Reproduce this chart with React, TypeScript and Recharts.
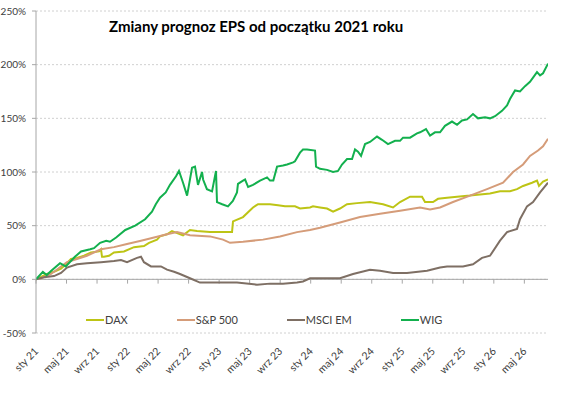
import React from "react";
import { LineChart, Line, XAxis, YAxis, CartesianGrid, ReferenceLine } from "recharts";

// x = months since January 2021
const tickMonths = [0, 4, 8, 12, 16, 20, 24, 28, 32, 36, 40, 44, 48, 52, 56, 60, 64];
const tickLabels = ["sty 21", "maj 21", "wrz 21", "sty 22", "maj 22", "wrz 22", "sty 23", "maj 23", "wrz 23", "sty 24", "maj 24", "wrz 24", "sty 25", "maj 25", "wrz 25", "sty 26", "maj 26"];
const yTicks = [-50, 0, 50, 100, 150, 200, 250];

const wigT = [0, 0.9, 1.4, 2.0, 3.15, 3.9, 5.1, 5.9, 7.1, 7.6, 8.4, 9.2, 9.7, 10.5, 11.7, 13.0, 14.3, 15.2, 15.7, 16.25, 17.0, 17.56, 18.35, 18.74, 19.27, 19.8, 20.45, 20.84, 21.23, 21.76, 21.9, 22.4, 23.07, 23.59, 23.72, 24.4, 25.16, 25.8, 26.34, 26.47, 27.13, 27.4, 27.8, 28.44, 29.36, 30.28, 30.67, 31.1, 31.59, 32.37, 32.9, 33.7, 33.94, 34.6, 34.99, 35.52, 36.57, 36.7, 37.22, 38.14, 38.93, 39.58, 40.1, 40.76, 41.42, 41.81, 42.2, 42.6, 43.12, 43.77, 44.69, 45.35, 46.13, 47.05, 47.71, 48.1, 49.02, 49.93, 50.33, 51.11, 51.64, 52.29, 52.95, 53.6, 54.52, 55.18, 55.83, 56.49, 57.27, 57.93, 58.85, 59.5, 60.16, 61.07, 61.73, 62.12, 62.78, 63.43, 64.09, 64.74, 65.66, 66.06, 66.45, 67.1];
const wigV = [0, 7, 4, 8, 15, 12, 21, 26, 28, 29, 34, 36, 35, 39, 46, 50, 56, 63, 70, 76, 81, 88, 96, 101, 90, 78, 104, 105, 88, 100, 93, 84, 82, 101, 72, 70, 68, 73, 81, 89, 92, 93, 86, 88, 92, 95, 92, 92, 105, 106, 107, 109, 110, 118, 121, 121, 120, 105, 103, 102, 100, 101, 107, 112, 112, 121, 119, 115, 126, 128, 133, 130, 126, 129, 129, 132, 132, 136, 137, 140, 134, 137, 137, 143, 147, 144, 148, 149, 154, 150, 151, 150, 152, 157, 162, 168, 176, 175, 180, 184, 193, 190, 192, 201];

const daxT = [0, 1.44, 2.36, 3.28, 3.93, 4.59, 5.37, 6.29, 7.21, 8.26, 8.52, 8.65, 8.91, 9.57, 10.22, 11.53, 12.84, 14.15, 14.81, 15.86, 16.25, 17.17, 17.82, 19.27, 20.18, 21.1, 22.8, 24.51, 25.69, 25.82, 27.13, 28.44, 29.1, 30.67, 31.72, 32.63, 33.94, 34.6, 35.91, 36.3, 37.22, 38.14, 38.93, 39.84, 40.76, 42.07, 43.77, 45.48, 46.79, 47.71, 49.02, 50.59, 50.98, 52.03, 52.69, 53.87, 55.18, 56.88, 58.19, 59.5, 60.81, 62.12, 63.04, 63.83, 65.01, 65.66, 65.92, 66.45, 67.1];
const daxV = [0, 5, 7, 10, 14, 19, 20, 22, 25, 26, 28, 21, 21, 22, 25, 26, 30, 31, 34, 37, 40, 42, 45, 41, 46, 45, 44, 44, 44, 54, 58, 67, 70, 70, 69, 68, 68, 66, 67, 68, 67, 66, 63, 66, 70, 71, 72, 70, 67, 72, 77, 77, 72, 72, 75, 76, 77, 78, 79, 80, 82, 82, 84, 87, 90, 92, 87, 91, 93];

const spT = [0, 0.66, 1.97, 3.28, 4.06, 5.37, 6.68, 8.52, 10.22, 11.93, 13.76, 15.47, 17.17, 18.48, 20.18, 22.8, 24.51, 25.43, 27.13, 29.75, 31.98, 34.21, 35.91, 37.22, 39.84, 42.46, 45.09, 47.71, 50.33, 51.64, 52.95, 54.65, 56.88, 59.11, 61.21, 62.52, 63.83, 64.74, 65.79, 66.45, 67.1];
const spV = [0, 1, 5, 12, 16, 19, 22, 28, 30, 33, 36, 39, 42, 44, 41, 40, 37, 34, 35, 37, 40, 44, 46, 48, 53, 58, 61, 64, 67, 65, 67, 72, 78, 84, 90, 100, 107, 115, 120, 124, 131];

const emT = [0, 1.05, 2.36, 3.28, 4.06, 5.37, 6.68, 8.52, 10.22, 11.14, 11.93, 13.24, 13.76, 14.15, 15.07, 16.38, 17.17, 18.09, 18.87, 20.18, 21.49, 24.12, 26.34, 28.96, 30.67, 32.37, 34.21, 34.99, 35.91, 38.14, 39.84, 41.55, 43.77, 45.09, 46.79, 48.62, 51.25, 52.95, 53.87, 55.96, 57.27, 58.45, 59.5, 60.81, 61.73, 63.04, 63.43, 64.35, 65.14, 66.06, 67.1];
const emV = [0, 2, 3, 6, 11, 14, 15, 16, 17, 18, 16, 20, 21, 16, 12, 12, 9, 7, 5, 1, -3, -3, -3, -5, -4, -4, -3, -2, 1, 1, 1, 5, 9, 8, 6, 6, 8, 11, 12, 12, 14, 20, 22, 36, 44, 47, 56, 68, 72, 81, 90];

const zip = (t: number[], v: number[]) => t.map((m, i) => ({ t: m, v: v[i] }));

const series = [
  { name: "DAX", color: "#BDC415", data: zip(daxT, daxV) },
  { name: "S&P 500", color: "#D59C79", data: zip(spT, spV) },
  { name: "MSCI EM", color: "#7E6F64", data: zip(emT, emV) },
  { name: "WIG", color: "#13B04E", data: zip(wigT, wigV) },
];

const FONT = "Lato, 'Open Sans', sans-serif";

const XTick = (props: any) => {
  const { x, y, payload } = props;
  const i = tickMonths.indexOf(payload.value);
  const px = x + 3;
  const py = y + 19;
  return (
    <text x={px} y={py} textAnchor="end" transform={`rotate(-45, ${px}, ${py})`} fontSize={10.5} fill="#404040" fontFamily={FONT}>
      {tickLabels[i]}
    </text>
  );
};

export default function App() {
  return (
    <div style={{ position: "relative", width: 564, height: 403, fontFamily: FONT, background: "#fff" }}>
      <style>{"body{margin:0}"}</style>
      <LineChart width={564} height={403} margin={{ top: 11, right: 16, left: 0, bottom: 0 }}>
        <CartesianGrid vertical={false} stroke="#d0d0d0" strokeDasharray="2 2" />
        <XAxis
          type="number"
          dataKey="t"
          domain={[0, 67.1]}
          ticks={tickMonths}
          interval={0}
          height={70}
          axisLine={false}
          tickLine={false}
          tickSize={0}
          tickMargin={0}
          tick={<XTick />}
          allowDataOverflow
        />
        <YAxis
          type="number"
          domain={[-50, 250]}
          ticks={yTicks}
          interval={0}
          width={36}
          tickFormatter={(v: number) => `${v}%`}
          axisLine={{ stroke: "#a6a6a6" }}
          tickLine={{ stroke: "#a6a6a6" }}
          tickSize={4}
          tickMargin={6}
          tick={{ fontSize: 10, fill: "#404040", fontFamily: FONT }}
        />
        <ReferenceLine y={0} stroke="#a6a6a6" strokeWidth={1} />
        {tickMonths.map((m) => (
          <ReferenceLine key={m} segment={[{ x: m, y: 0 }, { x: m, y: -4 }]} stroke="#a6a6a6" />
        ))}
        {series.map((s) => (
          <Line
            key={s.name}
            data={s.data}
            dataKey="v"
            name={s.name}
            type="linear"
            stroke={s.color}
            strokeWidth={2}
            dot={false}
            activeDot={false}
            isAnimationActive={false}
          />
        ))}
      </LineChart>
      <div style={{ position: "absolute", left: 109, top: 17, fontSize: 15, fontWeight: 700, color: "#000", lineHeight: 1.2, whiteSpace: "nowrap" }}>
        Zmiany prognoz EPS od początku 2021 roku
      </div>
      <div style={{ position: "absolute", left: 86, top: 313, display: "flex", gap: 49, alignItems: "center", fontSize: 11, color: "#404040", lineHeight: "14px" }}>
        {series.map((s) => (
          <div key={s.name} style={{ display: "flex", alignItems: "center" }}>
            <div style={{ width: 18, height: 2.5, background: s.color }} />
            <span style={{ marginLeft: 1 }}>{s.name}</span>
          </div>
        ))}
      </div>
    </div>
  );
}
